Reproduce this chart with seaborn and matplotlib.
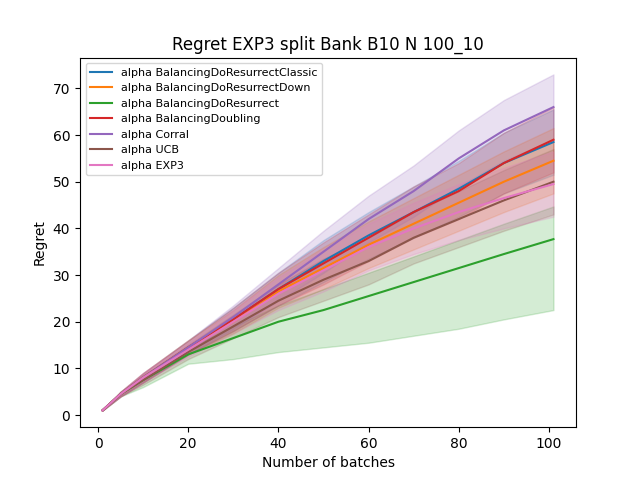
import numpy as np
import pandas as pd
import seaborn as sns
import matplotlib.pyplot as plt

batches = [1, 5, 10, 20, 30, 40, 50, 60, 70, 80, 90, 101]

names = ["alpha BalancingDoResurrectClassic", "alpha BalancingDoResurrectDown",
         "alpha BalancingDoResurrect", "alpha BalancingDoubling",
         "alpha Corral", "alpha UCB", "alpha EXP3"]

classic = [1, 4.5, 8, 14.5, 20.5, 27, 33, 38.5, 43.5, 48.5, 54, 58.5]
down = [1, 4.5, 8, 14.5, 20, 26.5, 31.5, 36.5, 41, 45.5, 50, 54.5]
resurrect = [1, 4.5, 7.5, 13, 16.5, 20, 22.5, 25.5, 28.5, 31.5, 34.5, 37.7]
doubling = [1, 4.5, 8, 14.5, 20.5, 27, 32.5, 38, 43.5, 48, 54, 59]
corral = [1, 4.5, 8, 14.5, 21, 28, 35, 42, 48, 55, 61, 66]
ucb = [1, 4.5, 7.5, 13.5, 19, 24.5, 29, 33, 38, 42, 46, 50]
exp3 = [1, 4.5, 8, 14, 20, 26, 31, 36, 40, 43.5, 46.5, 49.5]

# band half widths read from the shaded areas
spread = [0, 0.5, 1, 1.5, 2.5, 3.5, 4.5, 5, 5.5, 6, 6.5, 7]
green_low = [0, 0.5, 1.5, 2, 4.5, 6.5, 8, 10, 11.5, 13, 14, 15.2]
green_high = [0, 0.5, 1, 1.5, 2.5, 3.5, 4.5, 5, 5.5, 6, 6.5, 7]

series = [classic, down, resurrect, doubling, corral, ucb, exp3]
colors = sns.color_palette("tab10", 7)

rows = []
for n, s in zip(names, series):
    for x, y in zip(batches, s):
        rows.append({"batch": x, "regret": y, "alg": n})
df = pd.DataFrame(rows)

fig, ax = plt.subplots(figsize=(6.4, 4.8), dpi=100)
sns.lineplot(data=df, x="batch", y="regret", hue="alg", palette=colors, ax=ax)

for i, s in enumerate(series):
    m = np.array(s)
    if i == 2:
        lo, hi = m - np.array(green_low), m + np.array(green_high)
    else:
        lo, hi = m - np.array(spread), m + np.array(spread)
    ax.fill_between(batches, lo, hi, color=colors[i], alpha=0.2)

ax.set_title("Regret EXP3 split Bank B10 N 100_10")
ax.set_xlabel("Number of batches")
ax.set_ylabel("Regret")
ax.legend(loc="upper left", fontsize=8)
plt.savefig("out.png")
